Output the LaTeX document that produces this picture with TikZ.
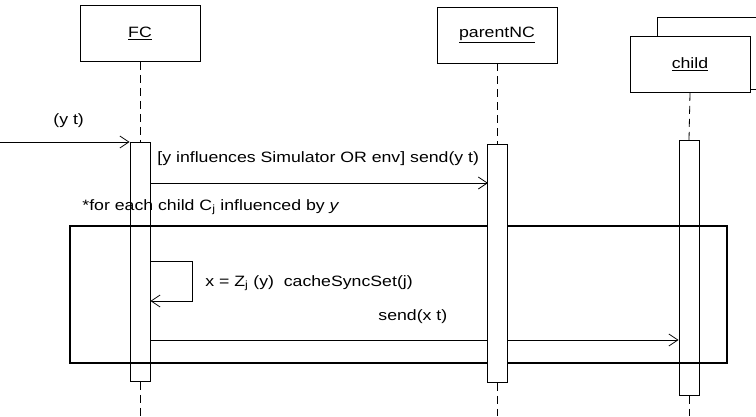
\documentclass[tikz,border=0pt]{standalone}
\usepackage{fontspec}
\setmainfont{Liberation Sans}[FakeStretch=1.18]
\usetikzlibrary{arrows.meta}

\tikzset{
  obj/.style={draw, fill=white, minimum width=120pt, minimum height=56pt,
    font=\fontsize{15}{17}\selectfont},
  act/.style={draw, minimum width=20pt, anchor=north},
  life/.style={dash pattern=on 8pt off 5pt},
  msg/.style={-{Straight Barb[length=9pt,width=12pt]}},
  lbl/.style={font=\fontsize{15}{17}\selectfont, inner sep=0pt, anchor=west},
  loopframe/.style={draw, line width=1.3pt},
}

\begin{document}
\begin{tikzpicture}[x=1pt,y=-1pt,line width=0.8pt]
  \useasboundingbox (0,0) rectangle (756,416);

  % objects
  \node[obj] (fc) at (140,33.5) {\underline{FC}};
  \node[obj] (pnc) at (497,35) {\underline{parentNC}};
  \begin{scope}
    \clip (0,0) rectangle (756,416);
    \draw (657,17) rectangle (800,89);
  \end{scope}
  \node[obj] (child) at (690,64.5) {\underline{child}};

  % activations
  \node[act, minimum height=239pt] (fca) at (140,142) {};
  \node[act, minimum height=255pt] (childa) at (689,140) {};

  \coordinate (fcend) at (140,416);
  \coordinate (pncend) at (497,416);
  \coordinate (childend) at (689,416);
  \coordinate (found) at (0,142);

  % lifelines
  \draw[life] (fc.south) -- (fca.north);
  \draw[life] (fca.south) -- (fcend);
  \draw[life] (child.south) -- (childa.north);
  \draw[life] (childa.south) -- (childend);

  % loop
  \draw[loopframe] (70,226) rectangle (727,363);
  \node[lbl] (each) at (82,207) {*for each child C\textsubscript{j} influenced by \textit{y}};

  % messages
  \draw[msg] (found) -- (fca.north west);
  \node[lbl] (yt) at (53,121) {(y t)};
  \draw[msg] (fca.east |- 0,183) -- (488,183);
  \node[lbl] (m1) at (157,159) {[y influences Simulator OR env] send(y t)};
  \draw[msg] (fca.east |- 0,261) -- ++(42,0) -- ++(0,40) -- (fca.east |- 0,301);
  \node[lbl] (m2) at (205,283) {x = Z\textsubscript{j} (y) \ cacheSyncSet(j)};
  \draw[msg] (fca.east |- 0,340) -- (childa.west |- 0,340);
  \node[lbl] (m3) at (378,317) {send(x t)};

  % parentNC on top
  \node[act, fill=white, minimum height=238pt] (pnca) at (497,144) {};
  \draw[life] (pnc.south) -- (pnca.north);
  \draw[life] (pnca.south) -- (pncend);
\end{tikzpicture}
\end{document}
